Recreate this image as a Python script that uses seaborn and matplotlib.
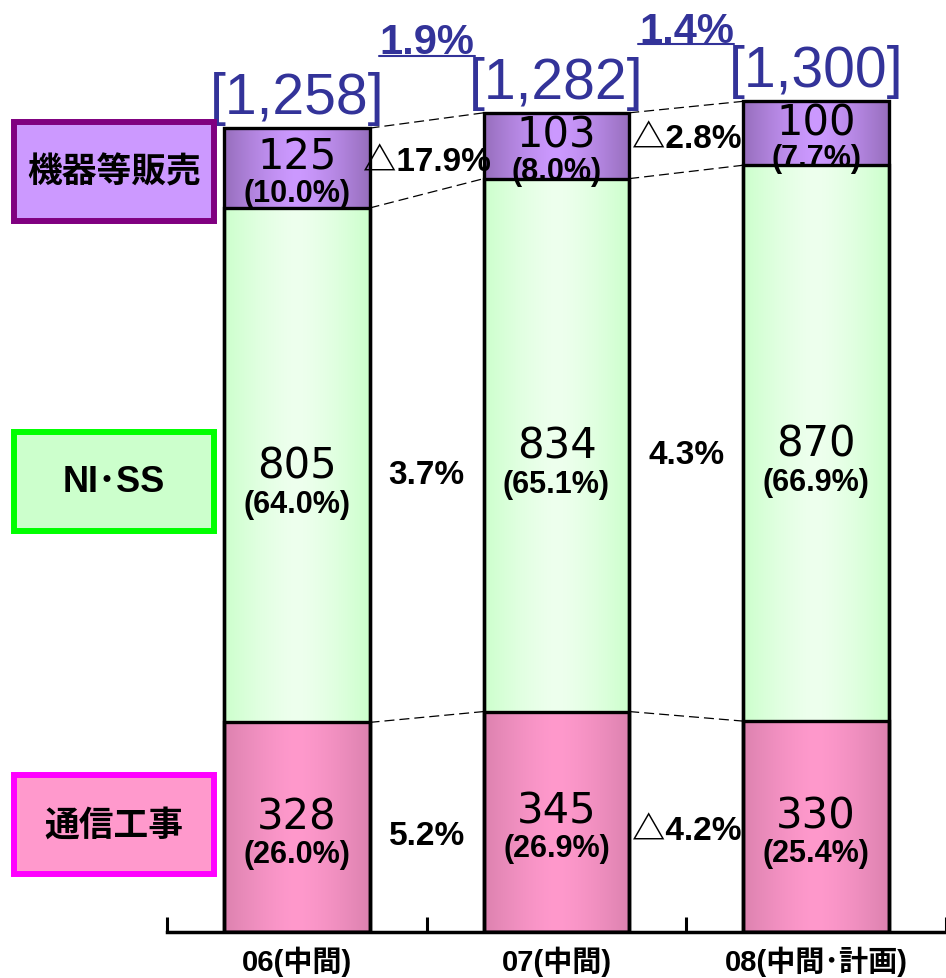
import numpy as np
import matplotlib
matplotlib.use('Agg')
import matplotlib.pyplot as plt
from matplotlib.patches import Rectangle
from matplotlib import transforms
import seaborn as sns

# data
periods = ['06(中間)', '07(中間)', '08(中間･計画)']
segments = ['通信工事', 'NI･SS', '機器等販売']
koji = [328, 345, 330]
niss = [805, 834, 870]
kiki = [125, 103, 100]
koji_share = [26.0, 26.9, 25.4]
niss_share = [64.0, 65.1, 66.9]
kiki_share = [10.0, 8.0, 7.7]
koji_growth = [5.2, -4.2]
niss_growth = [3.7, 4.3]
kiki_growth = [-17.9, -2.8]
total_growth = [1.9, 1.4]

# styles
edge_cols = [(220, 130, 175), (204, 255, 204), (150, 110, 188)]
mid_cols = [(255, 153, 204), (238, 255, 238), (204, 153, 255)]
box_face = ['#FF99CC', '#CCFFCC', '#CC99FF']
box_edge = ['#FF00FF', '#00FF00', '#800080']
blue = '#333399'

sns.set_style('white')
plt.rcParams['font.family'] = ['Liberation Sans', 'Noto Sans CJK JP', 'DejaVu Sans']
plt.rcParams['text.color'] = 'black'
plt.rcParams['xtick.color'] = 'black'

values = np.array([koji, niss, kiki])
shares = [koji_share, niss_share, kiki_share]
growths = [koji_growth, niss_growth, kiki_growth]
cum = np.cumsum(values, axis=0)
bottoms = cum - values
totals = cum[-1]
W = 0.56

fig = plt.figure(figsize=(9.46, 9.79), dpi=100)
ax = fig.add_axes([167 / 946, 46 / 979, 779 / 946, 1440 * 0.639 / 979])

# stacked bars drawn as overlapping cumulative bars
for k in [2, 1, 0]:
    sns.barplot(x=periods, y=cum[k], color='white', width=W, errorbar=None,
                edgecolor='black', linewidth=2.4, ax=ax)
for p in ax.patches:
    p.set_facecolor('none')
    p.set_zorder(3)

# horizontal gradient fill for each segment
t = np.linspace(0, 1, 256)
w = 1 - np.abs(2 * t - 1) ** 1.4
for k in range(3):
    e = np.array(edge_cols[k]) / 255
    m = np.array(mid_cols[k]) / 255
    grad = (e[None, :] * (1 - w[:, None]) + m[None, :] * w[:, None])[None, :, :]
    for i in range(3):
        ax.imshow(grad, extent=[i - W / 2, i + W / 2, bottoms[k][i], cum[k][i]],
                  aspect='auto', interpolation='bilinear', zorder=2)

ax.set_xlim(-0.5, 2.5)
ax.set_ylim(0, 1440)

# dashed connectors between bars
for i in range(2):
    for k in range(3):
        ax.plot([i + W / 2, i + 1 - W / 2], [cum[k][i], cum[k][i + 1]],
                ls=(0, (8, 4)), color='black', lw=0.9, zorder=1)

# values and shares inside the segments
value_dy = [8, 0, 8]
share_dy = [-19, -28, -18]
for k in range(3):
    for i in range(3):
        yc = (bottoms[k][i] + cum[k][i]) / 2
        ax.annotate(f'{values[k][i]}', (i, yc), xytext=(0, value_dy[k]), textcoords='offset points',
                    ha='center', va='center', fontsize=30, family='DejaVu Sans', zorder=5)
        ax.annotate(f'({shares[k][i]:.1f}%)', (i, yc), xytext=(0, share_dy[k]),
                    textcoords='offset points', ha='center', va='center',
                    fontsize=22, fontweight='bold', zorder=5)


def fmt(g):
    return f'△{abs(g):.1f}%' if g < 0 else f'{g:.1f}%'


# growth rates between bars
label_dy = [-6, -7, 5]
for k in range(3):
    for i in range(2):
        yc = (bottoms[k][i] + cum[k][i]) / 2
        ax.annotate(fmt(growths[k][i]), (i + 0.5, yc), xytext=(0, label_dy[k]),
                    textcoords='offset points', ha='center', va='center',
                    fontsize=24, fontweight='bold', zorder=5)

# totals and total growth
for i in range(3):
    ax.annotate(f'[{totals[i]:,}]', (i, totals[i]), xytext=(0, 11), textcoords='offset points',
                ha='center', va='baseline', fontsize=41, color=blue)
ul = transforms.offset_copy(ax.transData, fig=fig, y=41, units='points')
for i in range(2):
    ax.annotate(f'{total_growth[i]:.1f}%', (i + 0.5, totals[i + 1]), xytext=(0, 43),
                textcoords='offset points', ha='center', va='baseline',
                fontsize=30, fontweight='bold', color=blue)
    ax.plot([i + 0.5 - 0.185, i + 0.5 + 0.185], [totals[i + 1]] * 2, color=blue, lw=1.5,
            transform=ul, clip_on=False)

# axis styling
for s in ['top', 'right', 'left']:
    ax.spines[s].set_visible(False)
ax.spines['bottom'].set_linewidth(2.5)
ax.spines['bottom'].set_color('black')
ax.set_yticks([])
ax.set_xticks(range(3), periods, fontsize=21, fontweight='bold')
ax.set_xticks([-0.5, 0.5, 1.5, 2.5], minor=True)
ax.tick_params(axis='x', which='major', bottom=True, length=0, pad=10)
ax.tick_params(axis='x', which='minor', bottom=True, direction='in', length=11,
               width=2.2, color='black')
ax.set_xlabel('')
ax.set_ylabel('')

# legend boxes on the left
box_top = [773, 430, 120]
for k in range(3):
    y0 = box_top[k] + 3
    fig.add_artist(Rectangle((14 / 946, 1 - (y0 + 99) / 979), 200 / 946, 99 / 979,
                             transform=fig.transFigure, facecolor=box_face[k],
                             edgecolor=box_edge[k], linewidth=4.3))
    fig.text(114 / 946, 1 - (y0 + 50) / 979, segments[k], ha='center', va='center',
             fontsize=25 if k != 1 else 26, fontweight='bold')

fig.savefig('out.png', dpi=100)
